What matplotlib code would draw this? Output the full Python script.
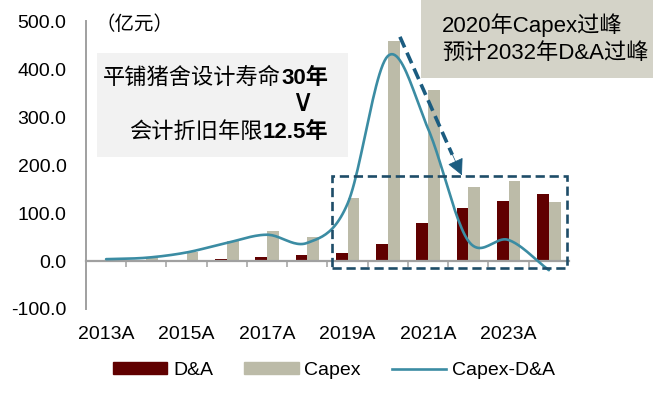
import numpy as np
import matplotlib
matplotlib.use('Agg')
import matplotlib.pyplot as plt
import matplotlib.transforms as mtransforms
from matplotlib.patches import Rectangle, Patch
from matplotlib.lines import Line2D

plt.rcParams['font.family'] = ['Liberation Sans', 'Noto Sans CJK SC', 'DejaVu Sans']

years = ['2013A', '2014A', '2015A', '2016A', '2017A', '2018A',
         '2019A', '2020A', '2021A', '2022A', '2023A', '2024A']
da = [0.5, 1, 1.5, 4, 8, 12, 17, 35, 80, 110, 125, 141]
capex = [4, 7, 19, 41, 63, 50, 131, 460, 358, 155, 168, 123]
gap = [4, 7, 18, 38, 55, 38, 120, 428, 276, 42, 44, -19]
yticks = [-100, 0, 100, 200, 300, 400, 500]

c_da = '#600000'
c_capex = '#BCBBA8'
c_line = '#3B8CA3'
c_box = '#1E4D68'
c_arrow = '#1B5C80'
c_axis = '#A0A0A0'


def smooth(xs, ys, n=24):
    # catmull-rom, close to excel's smoothed line
    xs = np.asarray(xs, float)
    ys = np.asarray(ys, float)
    px = np.concatenate([[2 * xs[0] - xs[1]], xs, [2 * xs[-1] - xs[-2]]])
    py = np.concatenate([[2 * ys[0] - ys[1]], ys, [2 * ys[-1] - ys[-2]]])
    ox, oy = [], []
    t = np.linspace(0, 1, n, endpoint=False)
    for i in range(1, len(px) - 2):
        for p, out in ((px, ox), (py, oy)):
            p0, p1, p2, p3 = p[i - 1], p[i], p[i + 1], p[i + 2]
            out.extend(0.5 * (2 * p1 + (-p0 + p2) * t
                              + (2 * p0 - 5 * p1 + 4 * p2 - p3) * t ** 2
                              + (-p0 + 3 * p1 - 3 * p2 + p3) * t ** 3))
    ox.append(xs[-1])
    oy.append(ys[-1])
    return np.array(ox), np.array(oy)


def mixed_line(fig, x_right, y, plain, bold, size):
    # plain text followed by bold text, right-aligned at x_right
    tb = fig.text(x_right, y, bold, fontsize=size, fontweight='bold',
                  ha='right', va='center')
    fig.canvas.draw()
    bb = tb.get_window_extent().transformed(fig.transFigure.inverted())
    fig.text(bb.x0, y, plain, fontsize=size, ha='right', va='center')


fig = plt.figure(figsize=(6.68, 4.07), dpi=100)
ax = fig.add_axes([0.1287, 0.2408, 0.7231, 0.7064])

x = np.arange(len(years))
w = 0.29
ax.bar(x - w / 2, da, w, color=c_da, zorder=2)
ax.bar(x + w / 2, capex, w, color=c_capex, zorder=2)
sx, sy = smooth(x, gap)
ax.plot(sx, sy, color=c_line, lw=1.9, zorder=4, solid_capstyle='round')

ax.set_xlim(-0.5, len(years) - 0.5)
ax.set_ylim(-100, 500)
ax.set_yticks(yticks)
ax.set_yticklabels(['%.1f' % v for v in yticks], fontsize=14)
ax.tick_params(axis='y', length=0, pad=14)
ax.set_xticks(np.arange(0.5, len(years) - 1, 1))
ax.set_xticklabels([])
ax.tick_params(axis='x', direction='out', length=4, width=1.1, color=c_axis)

for s in ['top', 'right']:
    ax.spines[s].set_visible(False)
ax.spines['left'].set_color(c_axis)
ax.spines['left'].set_linewidth(1.4)
ax.spines['bottom'].set_position(('data', 0))
ax.spines['bottom'].set_color(c_axis)
ax.spines['bottom'].set_linewidth(1.6)
ax.spines['bottom'].set_zorder(3)

trans = mtransforms.blended_transform_factory(ax.transData, fig.transFigure)
for i in range(0, len(years), 2):
    ax.text(x[i], 0.179, years[i], transform=trans, ha='center', va='center',
            fontsize=14)

# dashed box and arrow
ax.add_patch(Rectangle((5.61, -15), 5.84, 192, fill=False, ec=c_box, lw=1.9,
                       ls=(0, (3.5, 1.8)), zorder=5, clip_on=False))
ax.plot([7.3, 8.6], [468, 222], color=c_arrow, lw=2.6, ls=(0, (3.2, 1.6)),
        zorder=5, solid_capstyle='butt')
ax.annotate('', xy=(8.84, 179), xytext=(8.55, 232),
            arrowprops=dict(arrowstyle='-|>', color=c_arrow, lw=0.5,
                            mutation_scale=26, shrinkA=0, shrinkB=0),
            zorder=6)

# unit label
fig.text(0.1437, 0.9386, '（亿元）', fontsize=14, ha='left', va='center')

# left note box
fig.patches.append(Rectangle((0.1452, 0.6143), 0.3757, 0.2555,
                             transform=fig.transFigure, fc='#F2F2F2',
                             ec='none', zorder=0))
mixed_line(fig, 0.491, 0.8084, '平铺猪舍设计寿命', '30年', 16)
fig.text(0.452, 0.749, '∨', fontsize=22, ha='center', va='center',
         family=['DejaVu Sans'])
mixed_line(fig, 0.491, 0.6757, '会计折旧年限', '12.5年', 16)

# right note box
fig.patches.append(Rectangle((0.630, 0.8084), 0.347, 0.1916,
                             transform=fig.transFigure, fc='#D4D3C8',
                             ec='none', zorder=0))
fig.text(0.6617, 0.9386, '2020年Capex过峰', fontsize=16, ha='left',
         va='center')
fig.text(0.6617, 0.8698, '预计2032年D&A过峰', fontsize=16, ha='left',
         va='center')

handles = [Patch(color=c_da, label='D&A'),
           Patch(color=c_capex, label='Capex'),
           Line2D([], [], color=c_line, lw=1.9, label='Capex-D&A')]
fig.legend(handles=handles, loc='center', bbox_to_anchor=(0.5, 0.09),
           ncol=3, frameon=False, fontsize=14, handlelength=2.8,
           handleheight=0.5, handletextpad=0.3, columnspacing=1.6)

fig.savefig('out.png', dpi=100)
